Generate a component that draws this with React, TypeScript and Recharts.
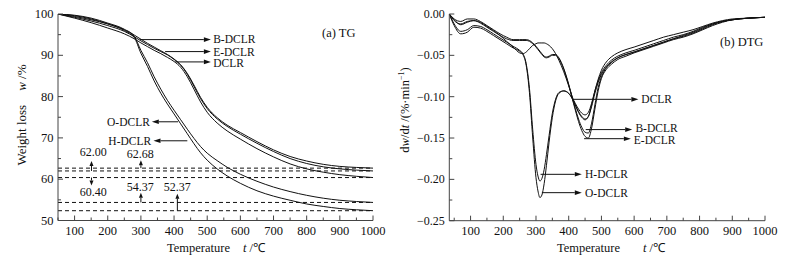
import React from 'react';
import { LineChart, Line, XAxis, YAxis, ReferenceLine, ReferenceDot } from 'recharts';

const FONT = '"Liberation Serif", "Times New Roman", Times, serif';
const INK = '#111';
const AXIS = '#444';
const BORDER = '#9a9a9a';

// ---------- ticks ----------
const tempTicks = [50, 100, 150, 200, 250, 300, 350, 400, 450, 500, 550, 600, 650, 700, 750, 800, 850, 900, 950, 1000];
const tgWeightTicks = [50, 55, 60, 65, 70, 75, 80, 85, 90, 95, 100];
const dtgRateTicks = [-0.25, -0.225, -0.2, -0.175, -0.15, -0.125, -0.1, -0.075, -0.05, -0.025, 0];

// ---------- TG (weight %) ----------
const tgTemps = [50, 100, 150, 200, 250, 280, 300, 320, 340, 360, 380, 400, 420, 440, 460, 480, 500, 530, 560, 600, 650, 700, 750, 800, 850, 900, 950, 1000];
const tgB = [100, 99.4, 98.6, 97.6, 96.2, 94.9, 93.9, 92.9, 92.0, 91.1, 90.2, 89.1, 87.7, 85.6, 82.8, 79.8, 77.4, 74.9, 73.1, 71.3, 69.1, 67.1, 65.5, 64.4, 63.6, 63.1, 62.85, 62.68];
const tgE = [100, 99.2, 98.3, 97.2, 95.8, 94.5, 93.5, 92.6, 91.7, 90.9, 90.1, 89.0, 87.6, 85.4, 82.5, 79.5, 77.1, 74.6, 72.8, 70.9, 68.7, 66.7, 65.0, 63.8, 63.0, 62.5, 62.2, 62.0];
const tgD = [100, 99.0, 97.9, 96.6, 95.2, 94.0, 93.0, 92.1, 91.2, 90.4, 89.5, 88.5, 87.1, 84.8, 81.8, 78.7, 76.2, 73.6, 71.7, 69.7, 67.4, 65.4, 63.7, 62.5, 61.7, 61.1, 60.7, 60.4];
const tgO = [100, 99.6, 98.8, 97.6, 96.0, 94.3, 90.5, 87.3, 83.8, 80.8, 78.2, 75.8, 73.4, 71.0, 68.6, 66.4, 64.6, 62.5, 60.8, 59.0, 57.2, 55.9, 54.9, 54.0, 53.4, 52.9, 52.6, 52.37];
const tgH = [100, 99.7, 99.0, 97.8, 96.3, 94.6, 91.2, 88.2, 84.8, 81.8, 79.1, 76.7, 74.4, 72.1, 69.9, 67.9, 66.3, 64.5, 62.9, 61.2, 59.5, 58.1, 57.0, 56.1, 55.4, 54.9, 54.6, 54.37];

const tgData = tgTemps.map((t, i) => ({ t, B: tgB[i], E: tgE[i], D: tgD[i], O: tgO[i], H: tgH[i] }));

// residual masses (dashed lines)
const residualValues = [62.68, 62.0, 60.4, 54.37, 52.37];

// ---------- DTG (%/min) ----------
const dtgTemps = [35, 50, 70, 90, 110, 130, 150, 170, 190, 210, 230, 250, 260, 270, 280, 290, 300, 306, 312, 318, 325, 332, 340, 350, 360, 370, 385, 400, 410, 420, 430, 440, 450, 460, 470, 480, 490, 500, 515, 530, 550, 575, 600, 630, 660, 690, 720, 750, 780, 810, 840, 870, 900, 950, 1000];
const dtgD = [0, -0.007, -0.013, -0.010, -0.008, -0.010, -0.015, -0.020, -0.026, -0.033, -0.040, -0.047, -0.048, -0.046, -0.042, -0.038, -0.036, -0.035, -0.035, -0.035, -0.035, -0.036, -0.038, -0.042, -0.048, -0.056, -0.070, -0.087, -0.099, -0.110, -0.119, -0.125, -0.128, -0.124, -0.110, -0.093, -0.079, -0.068, -0.058, -0.052, -0.047, -0.043, -0.040, -0.036, -0.032, -0.028, -0.025, -0.022, -0.019, -0.015, -0.011, -0.008, -0.006, -0.005, -0.004];
const dtgB = [0, -0.006, -0.009, -0.006, -0.006, -0.009, -0.014, -0.019, -0.024, -0.028, -0.031, -0.031, -0.031, -0.031, -0.032, -0.035, -0.039, -0.042, -0.045, -0.048, -0.051, -0.052, -0.051, -0.049, -0.049, -0.053, -0.066, -0.085, -0.100, -0.114, -0.127, -0.137, -0.143, -0.144, -0.132, -0.110, -0.089, -0.076, -0.065, -0.059, -0.053, -0.049, -0.046, -0.042, -0.038, -0.034, -0.030, -0.027, -0.023, -0.018, -0.013, -0.009, -0.007, -0.005, -0.004];
const dtgE = [0, -0.008, -0.012, -0.009, -0.008, -0.011, -0.016, -0.021, -0.026, -0.030, -0.032, -0.032, -0.032, -0.032, -0.033, -0.036, -0.040, -0.043, -0.046, -0.049, -0.052, -0.053, -0.052, -0.050, -0.050, -0.054, -0.067, -0.086, -0.101, -0.116, -0.130, -0.141, -0.148, -0.150, -0.138, -0.115, -0.093, -0.078, -0.067, -0.061, -0.055, -0.051, -0.047, -0.043, -0.039, -0.035, -0.031, -0.028, -0.024, -0.019, -0.014, -0.010, -0.007, -0.005, -0.004];
const dtgO = [0, -0.014, -0.024, -0.022, -0.016, -0.017, -0.021, -0.026, -0.031, -0.036, -0.041, -0.045, -0.049, -0.062, -0.095, -0.150, -0.198, -0.214, -0.222, -0.219, -0.205, -0.183, -0.155, -0.125, -0.105, -0.096, -0.093, -0.096, -0.102, -0.110, -0.118, -0.124, -0.127, -0.124, -0.112, -0.096, -0.083, -0.073, -0.064, -0.058, -0.053, -0.049, -0.046, -0.042, -0.038, -0.034, -0.030, -0.026, -0.022, -0.017, -0.012, -0.009, -0.007, -0.005, -0.004];
const dtgH = [0, -0.012, -0.021, -0.019, -0.014, -0.015, -0.019, -0.024, -0.029, -0.034, -0.039, -0.044, -0.048, -0.060, -0.090, -0.140, -0.182, -0.196, -0.202, -0.199, -0.188, -0.170, -0.147, -0.120, -0.103, -0.095, -0.093, -0.096, -0.101, -0.108, -0.115, -0.120, -0.122, -0.119, -0.108, -0.093, -0.081, -0.071, -0.062, -0.056, -0.051, -0.047, -0.044, -0.040, -0.036, -0.032, -0.028, -0.025, -0.021, -0.016, -0.012, -0.009, -0.007, -0.005, -0.004];

const dtgData = dtgTemps.map((t, i) => ({ t, B: dtgB[i], E: dtgE[i], D: dtgD[i], O: dtgO[i], H: dtgH[i] }));

// ---------- annotations (data coordinates) ----------
type Arrow = { label: string; tail: [number, number]; head: [number, number]; text: [number, number]; anchor: 'start' | 'middle' | 'end' };

const tgCurveArrows: Arrow[] = [
  { label: 'B-DCLR', tail: [297, 93.8], head: [511, 93.8], text: [518, 94.0], anchor: 'start' },
  { label: 'E-DCLR', tail: [373, 90.9], head: [511, 90.9], text: [518, 90.9], anchor: 'start' },
  { label: 'DCLR', tail: [403, 88.4], head: [511, 88.4], text: [518, 88.1], anchor: 'start' },
  { label: 'O-DCLR', tail: [412, 73.9], head: [333, 73.9], text: [327, 73.9], anchor: 'end' },
  { label: 'H-DCLR', tail: [440, 69.3], head: [338, 69.3], text: [331, 69.3], anchor: 'end' },
];

const tgResidualArrows: Arrow[] = [
  { label: '62.00', tail: [151, 62.0], head: [151, 64.4], text: [156, 66.7], anchor: 'middle' },
  { label: '62.68', tail: [300, 62.68], head: [300, 64.6], text: [298, 66.1], anchor: 'middle' },
  { label: '60.40', tail: [151, 60.4], head: [151, 58.5], text: [156, 57.0], anchor: 'middle' },
  { label: '54.37', tail: [300, 54.37], head: [300, 56.7], text: [298, 58.2], anchor: 'middle' },
  { label: '52.37', tail: [410, 52.37], head: [410, 56.5], text: [410, 58.1], anchor: 'middle' },
];

const dtgCurveArrows: Arrow[] = [
  { label: 'DCLR', tail: [414, -0.1032], head: [613, -0.1032], text: [622, -0.1032], anchor: 'start' },
  { label: 'B-DCLR', tail: [452, -0.1398], head: [594, -0.1398], text: [604, -0.1375], anchor: 'start' },
  { label: 'E-DCLR', tail: [447, -0.1508], head: [590, -0.1508], text: [599, -0.1522], anchor: 'start' },
  { label: 'H-DCLR', tail: [314, -0.1939], head: [440, -0.1939], text: [450, -0.1939], anchor: 'start' },
  { label: 'O-DCLR', tail: [318, -0.2161], head: [440, -0.2161], text: [450, -0.2161], anchor: 'start' },
];

// ---------- renderers ----------
const TM = 5;

const makeArrowShape = (head: number, half: number) => (p: any) => {
  const { x1, y1, x2, y2 } = p;
  const dx = x2 - x1;
  const dy = y2 - y1;
  const len = Math.hypot(dx, dy) || 1;
  const ux = dx / len;
  const uy = dy / len;
  const bx = x2 - ux * head;
  const by = y2 - uy * head;
  const px = -uy * half;
  const py = ux * half;
  return (
    <g>
      <line x1={x1} y1={y1} x2={bx} y2={by} stroke={INK} strokeWidth={1} />
      <polygon points={`${x2},${y2} ${bx + px},${by + py} ${bx - px},${by - py}`} fill={INK} />
    </g>
  );
};

const makeTextShape = (text: string, anchor: string, size: number) => (p: any) => (
  <text x={p.cx} y={p.cy} textAnchor={anchor} dominantBaseline="central" fontFamily={FONT} fontSize={size} fill={INK}>
    {text}
  </text>
);

const XTick = (props: any) => {
  const { x, y, payload } = props;
  const v = payload.value;
  const major = v % 100 === 0;
  const ay = y - TM;
  return (
    <g>
      <line x1={x} x2={x} y1={ay} y2={ay - (major ? 5 : 3)} stroke={AXIS} strokeWidth={1} />
      {major && (
        <text x={x} y={ay + 10} textAnchor="middle" dominantBaseline="central" fontFamily={FONT} fontSize={12.5} fill={INK}>
          {v}
        </text>
      )}
    </g>
  );
};

const TGYTick = (props: any) => {
  const { x, y, payload } = props;
  const v = payload.value;
  const major = v % 10 === 0;
  const ax = x + TM;
  return (
    <g>
      <line x1={ax} x2={ax + (major ? 5 : 3)} y1={y} y2={y} stroke={AXIS} strokeWidth={1} />
      {major && (
        <text x={ax - 4.5} y={y} textAnchor="end" dominantBaseline="central" fontFamily={FONT} fontSize={12.5} fill={INK}>
          {v}
        </text>
      )}
    </g>
  );
};

const DTGYTick = (props: any) => {
  const { x, y, payload } = props;
  const v = payload.value;
  const major = Math.abs(v * 20 - Math.round(v * 20)) < 1e-6;
  const ax = x + TM;
  const label = Math.abs(v) < 1e-9 ? '0.00' : '\u2212' + Math.abs(v).toFixed(2);
  return (
    <g>
      <line x1={ax} x2={ax + (major ? 5 : 3)} y1={y} y2={y} stroke={AXIS} strokeWidth={1} />
      {major && (
        <text x={ax - 4.5} y={y} textAnchor="end" dominantBaseline="central" fontFamily={FONT} fontSize={12} fill={INK}>
          {label}
        </text>
      )}
    </g>
  );
};

const seriesKeys = ['B', 'E', 'D', 'O', 'H'];

const renderArrows = (arrows: Arrow[], head: number, half: number, size: number, prefix: string) =>
  arrows.flatMap((a, i) => [
    <ReferenceLine
      key={`${prefix}-l${i}`}
      segment={[{ x: a.tail[0], y: a.tail[1] }, { x: a.head[0], y: a.head[1] }]}
      shape={makeArrowShape(head, half)}
      ifOverflow="visible"
    />,
    <ReferenceDot
      key={`${prefix}-t${i}`}
      x={a.text[0]}
      y={a.text[1]}
      r={0}
      ifOverflow="visible"
      shape={makeTextShape(a.label, a.anchor, size)}
    />,
  ]);

export default function App() {
  return (
    <div style={{ position: 'absolute', left: 0, top: 0, width: 798, height: 261, background: '#fff', fontFamily: FONT }}>
      <div style={{ position: 'absolute', left: 0, top: 0 }}>
        <LineChart width={400} height={261} data={tgData} margin={{ top: 14, right: 27, bottom: 10.5, left: 18 }}>
          <XAxis dataKey="t" type="number" domain={[50, 1000]} ticks={tempTicks} interval={0} tickSize={0} tickMargin={TM} tickLine={false} tick={(p: any) => <XTick {...p} />} height={30} stroke={AXIS} allowDataOverflow />
          <XAxis xAxisId="top" orientation="top" dataKey="t" type="number" domain={[50, 1000]} tick={false} tickLine={false} height={0} stroke={BORDER} allowDataOverflow />
          <YAxis type="number" domain={[50, 100]} ticks={tgWeightTicks} interval={0} tickSize={0} tickMargin={TM} tickLine={false} tick={(p: any) => <TGYTick {...p} />} width={40} stroke={AXIS} allowDataOverflow />
          <YAxis yAxisId="right" orientation="right" type="number" domain={[50, 100]} tick={false} tickLine={false} width={0} stroke={BORDER} allowDataOverflow />
          {residualValues.map((v) => (
            <ReferenceLine key={`r${v}`} y={v} stroke={INK} strokeWidth={1} strokeDasharray="4 3" />
          ))}
          {seriesKeys.map((k) => (
            <Line key={k} dataKey={k} type="monotone" stroke={INK} strokeWidth={1} dot={false} activeDot={false} isAnimationActive={false} />
          ))}
          {renderArrows(tgCurveArrows, 7, 2.3, 11.5, 'tgc')}
          {renderArrows(tgResidualArrows, 5, 2, 12, 'tgr')}
        </LineChart>
      </div>
      <div style={{ position: 'absolute', left: 400, top: 0 }}>
        <LineChart width={398} height={261} data={dtgData} margin={{ top: 14, right: 33, bottom: 10.3, left: 9.3 }}>
          <XAxis dataKey="t" type="number" domain={[35, 1000]} ticks={tempTicks} interval={0} tickSize={0} tickMargin={TM} tickLine={false} tick={(p: any) => <XTick {...p} />} height={30} stroke={AXIS} allowDataOverflow />
          <XAxis xAxisId="top" orientation="top" dataKey="t" type="number" domain={[35, 1000]} tick={false} tickLine={false} height={0} stroke={BORDER} allowDataOverflow />
          <YAxis type="number" domain={[-0.25, 0]} ticks={dtgRateTicks} interval={0} tickSize={0} tickMargin={TM} tickLine={false} tick={(p: any) => <DTGYTick {...p} />} width={40} stroke={AXIS} allowDataOverflow />
          <YAxis yAxisId="right" orientation="right" type="number" domain={[-0.25, 0]} tick={false} tickLine={false} width={0} stroke={BORDER} allowDataOverflow />
          {seriesKeys.map((k) => (
            <Line key={k} dataKey={k} type="monotone" stroke={INK} strokeWidth={1} dot={false} activeDot={false} isAnimationActive={false} />
          ))}
          {renderArrows(dtgCurveArrows, 7, 2.3, 11.5, 'dtg')}
        </LineChart>
      </div>
      <svg width={798} height={261} style={{ position: 'absolute', left: 0, top: 0, pointerEvents: 'none' }} fontFamily={FONT} fontSize={12.5} fill={INK}>
        <text x={322} y={33} dominantBaseline="central">(a) TG</text>
        <text x={720} y={41.5} dominantBaseline="central">(b) DTG</text>
        <text x={167} y={248} dominantBaseline="central">
          Temperature
          <tspan x={243} fontStyle="italic">t</tspan>
          <tspan> /℃</tspan>
        </text>
        <text x={557} y={248} dominantBaseline="central">
          Temperature
          <tspan x={643} fontStyle="italic">t</tspan>
          <tspan> /℃</tspan>
        </text>
        <text transform="translate(21,115) rotate(-90)" textAnchor="middle" dominantBaseline="central" fontSize={13}>
          Weight loss
          <tspan dx={14} fontStyle="italic">w</tspan>
          <tspan> /%</tspan>
        </text>
        <text transform="translate(405,110) rotate(-90)" textAnchor="middle" dominantBaseline="central" fontSize={12.5}>
          d<tspan fontStyle="italic">w</tspan>/d<tspan fontStyle="italic">t</tspan> /(%·min<tspan dy={-4} fontSize={8}>−1</tspan><tspan dy={4}>)</tspan>
        </text>
      </svg>
    </div>
  );
}
